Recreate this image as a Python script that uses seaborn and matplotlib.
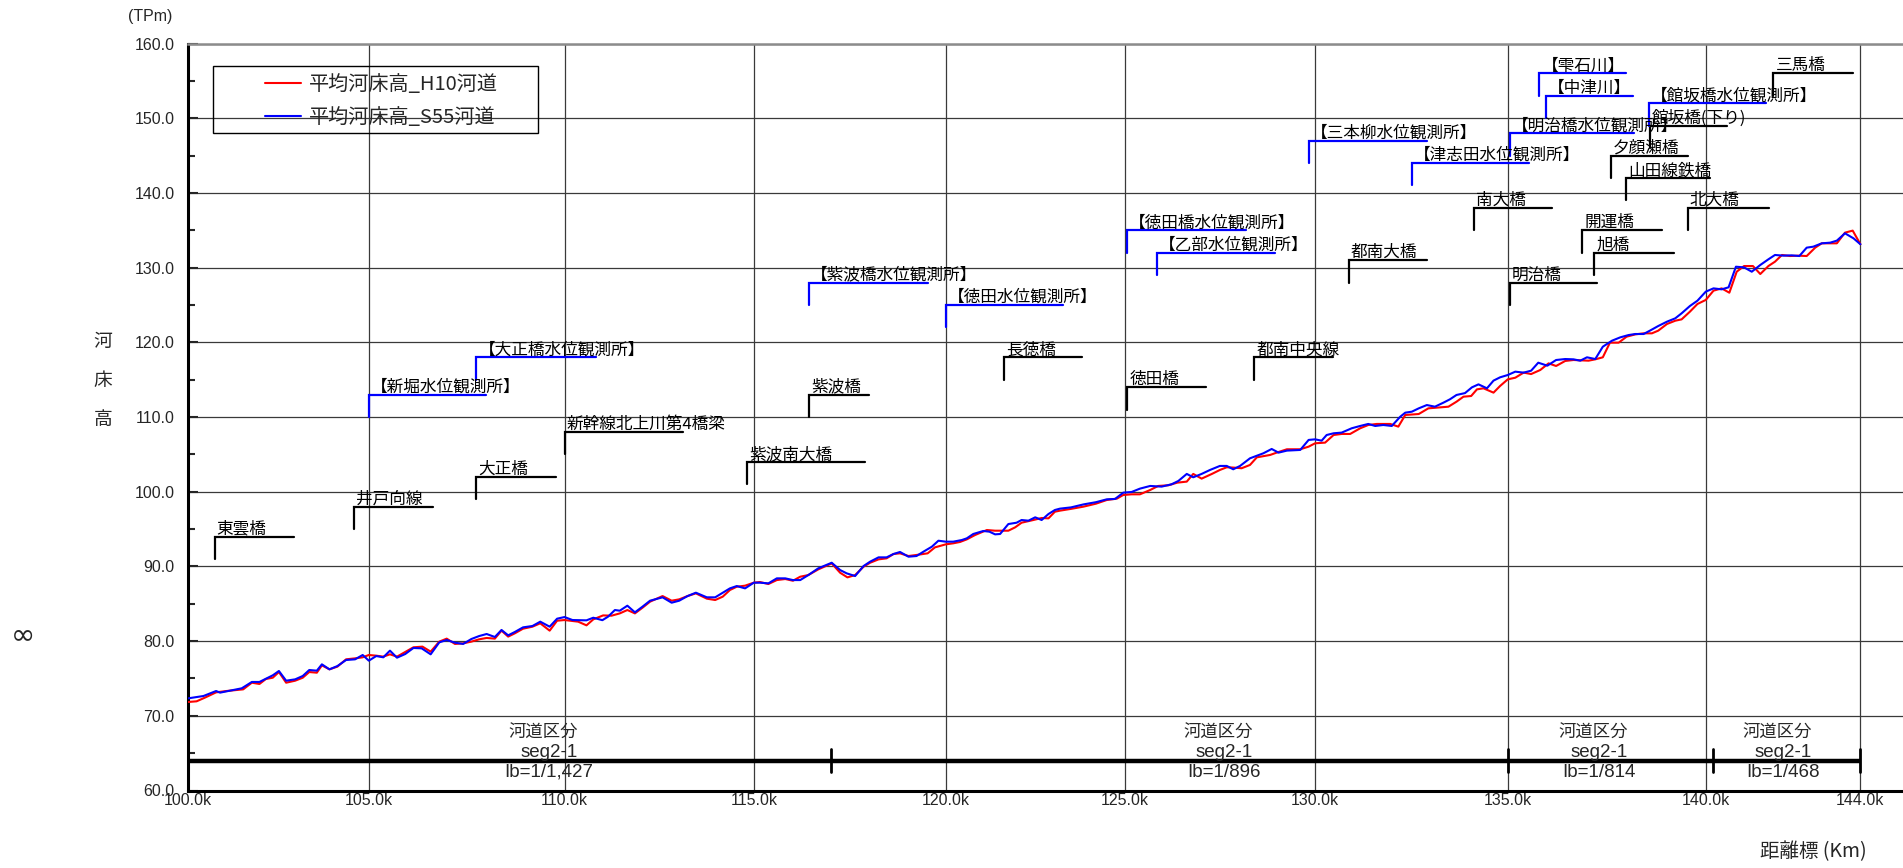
"""
河床高縦断図 (平均河床高 H10河道 / S55河道) の再現。
"""

import numpy as np
import pandas as pd
import matplotlib
matplotlib.use("Agg")
import matplotlib.pyplot as plt
from matplotlib import font_manager
from matplotlib.patches import Rectangle
from matplotlib.ticker import FixedLocator, MultipleLocator
import seaborn as sns


# 距離標 (km) と、その距離標までの実距離 (km)。横軸はこの実距離で描く
KP_MARKS = [100.0, 105.0, 110.0, 115.0, 120.0, 125.0, 130.0, 135.0, 140.0, 144.0]
KP_DISTANCE = [0.0, 4.75, 9.9, 14.88, 19.93, 24.64, 29.65, 34.72, 39.93, 44.0]

# 平均河床高_H10河道
KM_H10 = [
    100.0, 100.23, 100.46, 100.77, 101.06, 101.52, 101.76, 101.97, 102.15, 102.34,
    102.51, 102.71, 102.96, 103.17, 103.35, 103.56, 103.70, 103.91, 104.13, 104.37,
    104.62, 104.83, 105.0, 105.19, 105.37, 105.54, 105.72, 106.14, 106.37, 106.58,
    106.80, 106.99, 107.20, 107.41, 107.62, 107.82, 108.01, 108.22, 108.39, 108.56,
    108.73, 108.94, 109.18, 109.38, 109.62, 109.81, 110.0, 110.36, 110.58, 110.76,
    111.02, 111.24, 111.46, 111.66, 111.86, 112.06, 112.26, 112.59, 112.83, 113.03,
    113.25, 113.47, 113.76, 113.98, 114.18, 114.37, 114.55, 114.77, 115.0, 115.16,
    115.38, 115.60, 115.82, 116.02, 116.21, 116.42, 116.68, 117.03, 117.25, 117.44,
    117.64, 117.86, 118.03, 118.25, 118.46, 118.64, 118.81, 119.03, 119.24, 119.53,
    119.72, 120.0, 120.21, 120.40, 120.59, 120.82, 121.15, 121.38, 121.75, 121.94,
    122.12, 122.45, 122.68, 122.87, 123.05, 123.19, 123.5, 123.85, 124.2, 124.50,
    124.78, 124.96, 125.18, 125.40, 125.67, 125.88, 126.15, 126.38, 126.63, 126.80,
    127.02, 127.29, 127.50, 127.68, 127.85, 128.07, 128.29, 128.47, 128.82, 128.99,
    129.26, 129.61, 129.83, 130.0, 130.26, 130.48, 130.69, 130.91, 131.17, 131.38,
    131.60, 131.95, 132.16, 132.34, 132.69, 132.94, 133.24, 133.46, 133.67, 133.85,
    134.05, 134.2, 134.37, 134.63, 134.80, 135.0, 135.19, 135.40, 135.59, 135.82,
    136.03, 136.22, 136.45, 136.66, 137.04, 137.21, 137.40, 137.58, 137.80, 138.0,
    138.22, 138.43, 138.64, 138.80, 139.02, 139.23, 139.39, 139.60, 139.79, 140.0,
    140.20, 140.41, 140.61, 140.80, 140.99, 141.22, 141.41, 141.62, 141.79, 141.97,
    142.18, 142.40, 142.61, 142.83, 143.0, 143.22, 143.39, 143.60, 143.80, 144.0,
]
BED_H10 = [
    71.85, 71.94, 72.43, 73.14, 73.32, 73.54, 74.43, 74.26, 74.93, 75.10,
    75.86, 74.43, 74.70, 75.10, 75.86, 75.77, 76.75, 76.22, 76.58, 77.56,
    77.69, 77.83, 78.14, 78.05, 77.92, 78.23, 77.92, 79.17, 79.26, 78.59,
    79.93, 80.33, 79.62, 79.70, 79.93, 80.24, 80.42, 80.33, 81.40, 80.60,
    81.04, 81.66, 81.93, 82.38, 81.40, 82.73, 82.82, 82.60, 82.11, 82.91,
    83.44, 83.40, 83.71, 84.16, 83.71, 84.47, 85.28, 86.03, 85.41, 85.59,
    86.03, 86.39, 85.68, 85.50, 85.95, 86.84, 87.28, 87.42, 87.82, 87.91,
    87.64, 88.17, 88.31, 88.08, 88.62, 88.84, 89.60, 90.40, 89.15, 88.53,
    88.84, 89.96, 90.49, 90.94, 91.08, 91.66, 91.75, 91.39, 91.53, 91.75,
    92.55, 92.95, 93.09, 93.27, 93.62, 94.20, 94.87, 94.78, 94.78, 95.23,
    95.85, 96.21, 96.48, 96.43, 97.32, 97.46, 97.70, 98.00, 98.40, 98.89,
    99.07, 99.56, 99.65, 99.65, 100.23, 100.77, 100.86, 101.21, 101.35, 102.38,
    101.75, 102.38, 102.91, 103.27, 103.23, 103.14, 103.58, 104.60, 104.92, 105.23,
    105.68, 105.68, 106.03, 106.48, 106.57, 107.59, 107.73, 107.73, 108.49, 108.93,
    109.07, 109.07, 108.71, 110.27, 110.40, 111.16, 111.29, 111.38, 112.05, 112.72,
    112.81, 113.70, 113.84, 113.26, 114.15, 115.04, 115.26, 115.94, 115.75, 116.29,
    117.18, 116.83, 117.50, 117.63, 117.54, 117.72, 117.99, 119.95, 119.95, 120.75,
    121.06, 121.20, 121.20, 121.56, 122.45, 122.89, 123.07, 124.10, 125.13, 125.67,
    126.91, 127.22, 126.64, 129.45, 130.21, 130.21, 129.14, 130.21, 130.79, 131.69,
    131.55, 131.60, 131.55, 132.67, 133.25, 133.25, 133.25, 134.68, 134.95, 133.12,
]

# 平均河床高_S55河道
KM_S55 = [
    100.0, 100.42, 100.77, 100.88, 101.16, 101.48, 101.76, 101.97, 102.15, 102.34,
    102.51, 102.71, 102.96, 103.17, 103.35, 103.56, 103.70, 103.91, 104.13, 104.37,
    104.62, 104.83, 105.0, 105.19, 105.37, 105.54, 105.72, 105.93, 106.14, 106.35,
    106.58, 106.80, 106.99, 107.20, 107.41, 107.62, 107.82, 108.01, 108.22, 108.39,
    108.56, 108.73, 108.94, 109.18, 109.38, 109.62, 109.81, 110.0, 110.21, 110.58,
    110.76, 111.0, 111.15, 111.33, 111.46, 111.66, 111.86, 112.06, 112.26, 112.59,
    112.83, 113.03, 113.25, 113.47, 113.76, 113.98, 114.18, 114.37, 114.55, 114.77,
    115.0, 115.16, 115.38, 115.60, 115.82, 116.02, 116.21, 116.42, 116.68, 117.03,
    117.25, 117.42, 117.64, 117.86, 118.03, 118.25, 118.46, 118.64, 118.81, 119.03,
    119.24, 119.42, 119.64, 119.81, 120.0, 120.21, 120.45, 120.59, 120.77, 121.05,
    121.22, 121.38, 121.52, 121.75, 121.98, 122.12, 122.31, 122.5, 122.68, 122.87,
    123.05, 123.19, 123.5, 123.85, 124.2, 124.50, 124.73, 124.96, 125.18, 125.40,
    125.67, 125.97, 126.23, 126.41, 126.63, 126.80, 127.02, 127.24, 127.50, 127.68,
    127.85, 128.03, 128.29, 128.64, 128.86, 129.04, 129.26, 129.61, 129.83, 130.0,
    130.17, 130.30, 130.48, 130.69, 130.95, 131.17, 131.38, 131.56, 131.77, 131.99,
    132.21, 132.34, 132.51, 132.69, 132.90, 133.11, 133.33, 133.50, 133.67, 133.89,
    134.07, 134.24, 134.46, 134.63, 134.80, 135.0, 135.19, 135.40, 135.59, 135.77,
    136.0, 136.22, 136.45, 136.66, 136.83, 137.0, 137.21, 137.40, 137.63, 137.84,
    138.05, 138.22, 138.43, 138.59, 138.80, 139.02, 139.23, 139.39, 139.60, 139.79,
    140.0, 140.20, 140.41, 140.59, 140.78, 140.99, 141.19, 141.41, 141.62, 141.79,
    142.01, 142.22, 142.42, 142.61, 142.78, 143.0, 143.22, 143.39, 143.60, 143.82,
    144.0,
]
BED_S55 = [
    72.34, 72.65, 73.32, 73.10, 73.37, 73.68, 74.53, 74.53, 74.97, 75.42,
    76.00, 74.70, 74.88, 75.33, 76.13, 76.04, 76.89, 76.22, 76.66, 77.47,
    77.56, 78.14, 77.38, 78.00, 77.83, 78.72, 77.78, 78.27, 79.08, 79.03,
    78.23, 79.83, 80.15, 79.79, 79.62, 80.28, 80.68, 80.95, 80.55, 81.49,
    80.77, 81.22, 81.84, 82.02, 82.60, 81.93, 83.00, 83.22, 82.82, 82.78,
    83.13, 82.80, 83.27, 84.16, 84.07, 84.74, 83.85, 84.61, 85.41, 85.86,
    85.14, 85.41, 86.03, 86.48, 85.86, 85.86, 86.48, 87.06, 87.37, 87.06,
    87.82, 87.82, 87.73, 88.40, 88.40, 88.17, 88.17, 88.84, 89.74, 90.49,
    89.51, 89.07, 88.71, 90.05, 90.63, 91.21, 91.21, 91.66, 91.93, 91.30,
    91.39, 91.97, 92.64, 93.44, 93.31, 93.31, 93.53, 93.76, 94.34, 94.74,
    94.65, 94.29, 94.34, 95.67, 95.85, 96.21, 96.12, 96.57, 96.21, 97.01,
    97.55, 97.73, 97.90, 98.30, 98.60, 98.98, 99.03, 99.87, 99.96, 100.41,
    100.77, 100.68, 100.99, 101.44, 102.38, 101.93, 102.38, 102.91, 103.45, 103.45,
    103.00, 103.45, 104.47, 105.14, 105.72, 105.23, 105.50, 105.59, 106.93, 107.01,
    106.83, 107.59, 107.82, 107.91, 108.49, 108.80, 109.07, 108.80, 108.93, 108.80,
    110.04, 110.58, 110.71, 111.16, 111.60, 111.38, 111.92, 112.37, 112.95, 113.20,
    113.97, 114.37, 113.84, 114.87, 115.31, 115.62, 116.07, 115.94, 116.20, 117.27,
    116.87, 117.63, 117.76, 117.72, 117.54, 117.99, 117.76, 119.41, 120.21, 120.66,
    120.97, 121.11, 121.11, 121.56, 122.18, 122.76, 123.21, 123.88, 124.86, 125.57,
    126.78, 127.22, 127.09, 127.36, 130.12, 130.03, 129.45, 130.35, 131.11, 131.69,
    131.60, 131.64, 131.55, 132.67, 132.80, 133.25, 133.34, 133.61, 134.59, 133.92,
    133.12,
]

# 橋梁 (黒) と 水位観測所・合流点 (青) の引出し線
BRIDGE_NAMES = ["東雲橋", "井戸向線", "大正橋", "新幹線北上川第4橋梁", "紫波南大橋", "紫波橋",
                "長徳橋", "徳田橋", "都南中央線", "都南大橋", "南大橋", "明治橋", "開運橋",
                "旭橋", "夕顔瀬橋", "山田線鉄橋", "館坂橋(下り)", "北大橋", "三馬橋"]
BRIDGE_KM = [100.73, 104.58, 107.75, 110.0, 114.83, 116.44, 121.63, 125.07, 128.4, 130.87,
             134.13, 135.05, 136.88, 137.19, 137.6, 137.99, 138.58, 139.54, 141.75]
BRIDGE_KM_END = [102.93, 106.65, 109.79, 113.14, 117.91, 118.0, 123.8, 127.14, 130.46, 132.9,
                 136.12, 137.25, 138.9, 139.19, 139.54, 140.11, 140.55, 141.63, 143.8]
BRIDGE_TOP = [94, 98, 102, 108, 104, 113, 118, 114, 118, 131,
              138, 128, 135, 132, 145, 142, 149, 138, 156]

STATION_NAMES = ["【新堀水位観測所】", "【大正橋水位観測所】", "【紫波橋水位観測所】",
                 "【徳田水位観測所】", "【徳田橋水位観測所】", "【乙部水位観測所】",
                 "【三本柳水位観測所】", "【津志田水位観測所】", "【明治橋水位観測所】",
                 "【雫石川】", "【中津川】", "【館坂橋水位観測所】"]
STATION_KM = [105.0, 107.75, 116.44, 120.0, 125.07, 125.85, 129.83, 132.52, 135.05,
              135.8, 135.96, 138.57]
STATION_KM_END = [108.0, 110.82, 119.55, 123.29, 128.19, 128.95, 132.9, 135.54, 138.2,
                  137.99, 138.17, 141.57]
STATION_TOP = [113, 118, 128, 125, 135, 132, 147, 144, 148, 156, 153, 152]
LEADER_DROP = 3.0

# 河道区分
SEG_BOUNDS = [100.0, 117.0, 135.0, 140.2, 144.0]
SEG_LABEL_KM = [109.6, 127.6, 137.3, 142.0]
SEG_NAMES = ["seg2-1", "seg2-1", "seg2-1", "seg2-1"]
SEG_SLOPES = ["Ib=1/1,427", "Ib=1/896", "Ib=1/814", "Ib=1/468"]

LABEL_H10 = "平均河床高_H10河道"
LABEL_S55 = "平均河床高_S55河道"

W, H = 1903, 868


def main():
    sns.set_style("white")
    plt.rcParams["font.family"] = ["Noto Sans CJK JP", "DejaVu Sans"]
    names = {f.name for f in font_manager.fontManager.ttflist}
    num_font = "Liberation Sans Narrow" if "Liberation Sans Narrow" in names else "Liberation Sans"
    num_size = 13 if num_font == "Liberation Sans Narrow" else 11.5

    fig = plt.figure(figsize=(W / 100, H / 100), dpi=100)
    ax = fig.add_axes([188.3 / W, 77.5 / H, 1 - 188.3 / W, 747 / H])

    # 距離標 -> 実距離 の写像
    kp = np.array(KP_MARKS + [146.0])
    dist = np.array(KP_DISTANCE + [46.0])
    ax.set_xscale("function", functions=(lambda x: np.interp(x, kp, dist),
                                         lambda d: np.interp(d, dist, kp)))

    df = pd.concat([
        pd.DataFrame({"km": KM_H10, "bed": BED_H10, "series": LABEL_H10}),
        pd.DataFrame({"km": KM_S55, "bed": BED_S55, "series": LABEL_S55}),
    ], ignore_index=True)
    sns.lineplot(data=df, x="km", y="bed", hue="series",
                 palette={LABEL_H10: "#ff0000", LABEL_S55: "#0000ff"},
                 estimator=None, sort=False, linewidth=1.5, ax=ax, legend=False, zorder=3)

    ax.set_xlim(100, 145.12)
    ax.set_ylim(60, 160)
    ax.set_xlabel("")
    ax.set_ylabel("")

    ax.xaxis.set_major_locator(FixedLocator(KP_MARKS))
    ax.xaxis.set_minor_locator(FixedLocator([]))
    ax.xaxis.set_major_formatter(lambda v, pos: f"{v:.1f}k")
    ax.yaxis.set_major_locator(MultipleLocator(10))
    ax.yaxis.set_minor_locator(MultipleLocator(5))
    ax.yaxis.set_major_formatter(lambda v, pos: f"{v:.1f}")
    ax.tick_params(axis="x", length=0, pad=2)
    ax.tick_params(axis="y", which="both", direction="in", left=True, width=1.5, pad=10)
    ax.tick_params(axis="y", which="major", length=7)
    ax.tick_params(axis="y", which="minor", length=5)
    for lab in ax.get_xticklabels() + ax.get_yticklabels():
        lab.set_fontfamily(num_font)
        lab.set_fontsize(num_size)

    ax.grid(True, which="major", color="#3a3a3a", linewidth=0.9)
    ax.set_axisbelow(True)
    for side in ["left", "bottom"]:
        ax.spines[side].set_linewidth(2.2)
        ax.spines[side].set_color("black")
    ax.spines["top"].set_color("#8c8c8c")
    ax.spines["top"].set_linewidth(1.8)
    ax.spines["right"].set_visible(False)

    # 引出し線と名称
    def leader(name, x0, x1, top, color):
        ax.plot([x0, x0, x1], [top - LEADER_DROP, top, top], color=color,
                linewidth=1.6, solid_joinstyle="miter", zorder=2)
        ax.annotate(name, xy=(x0, top), xytext=(2, 3), textcoords="offset pixels",
                    ha="left", va="baseline", fontsize=12, color="black", zorder=4)

    for name, x0, x1, top in zip(BRIDGE_NAMES, BRIDGE_KM, BRIDGE_KM_END, BRIDGE_TOP):
        leader(name, x0, x1, top, "black")
    for name, x0, x1, top in zip(STATION_NAMES, STATION_KM, STATION_KM_END, STATION_TOP):
        leader(name, x0, x1, top, "#0000ff")

    # 河道区分
    ax.plot([SEG_BOUNDS[0], SEG_BOUNDS[-1]], [64, 64], color="black", linewidth=3.2,
            solid_capstyle="butt", zorder=3)
    for b in SEG_BOUNDS:
        ax.plot([b, b], [62.5, 65.5], color="black", linewidth=2.0, zorder=3)
    for cx, seg, ib in zip(SEG_LABEL_KM, SEG_NAMES, SEG_SLOPES):
        ax.text(cx - 0.15, 67.7, "河道区分", ha="center", va="center", fontsize=12.5, zorder=4)
        ax.text(cx, 65.1, seg, ha="center", va="center", fontsize=13.5,
                fontfamily=num_font, zorder=4)
        ax.text(cx, 62.45, ib, ha="center", va="center", fontsize=13.5,
                fontfamily=num_font, zorder=4)

    # 凡例 (枠は別に描く)
    lines = ax.get_lines()[:2]
    fig.legend(lines, [LABEL_H10, LABEL_S55], loc="upper left",
               bbox_to_anchor=(265 / W, 1 - 74 / H), bbox_transform=fig.transFigure,
               frameon=False, borderpad=0, borderaxespad=0, fontsize=14.5,
               handlelength=1.8, handletextpad=0.4, labelspacing=0.62)
    fig.patches.append(Rectangle((213 / W, 1 - 133.3 / H), 325 / W, 67.6 / H,
                                 transform=fig.transFigure, fill=False,
                                 edgecolor="black", linewidth=1.0, zorder=5))

    # 軸タイトルなど
    fig.text(150 / W, 1 - 17 / H, "(TPm)", ha="center", va="center",
             fontsize=num_size, fontfamily=num_font)
    for ch, y in zip("河床高", [342, 381, 420]):
        fig.text(103 / W, 1 - y / H, ch, ha="center", va="center", fontsize=13.5)
    fig.text(23 / W, 1 - 635 / H, "∞", ha="center", va="center", fontsize=21,
             fontfamily="DejaVu Sans")
    fig.text(1813 / W, 1 - 852 / H, "距離標 (Km)", ha="center", va="center", fontsize=14)

    fig.savefig("out.png", dpi=100)
    plt.close(fig)


if __name__ == "__main__":
    main()
